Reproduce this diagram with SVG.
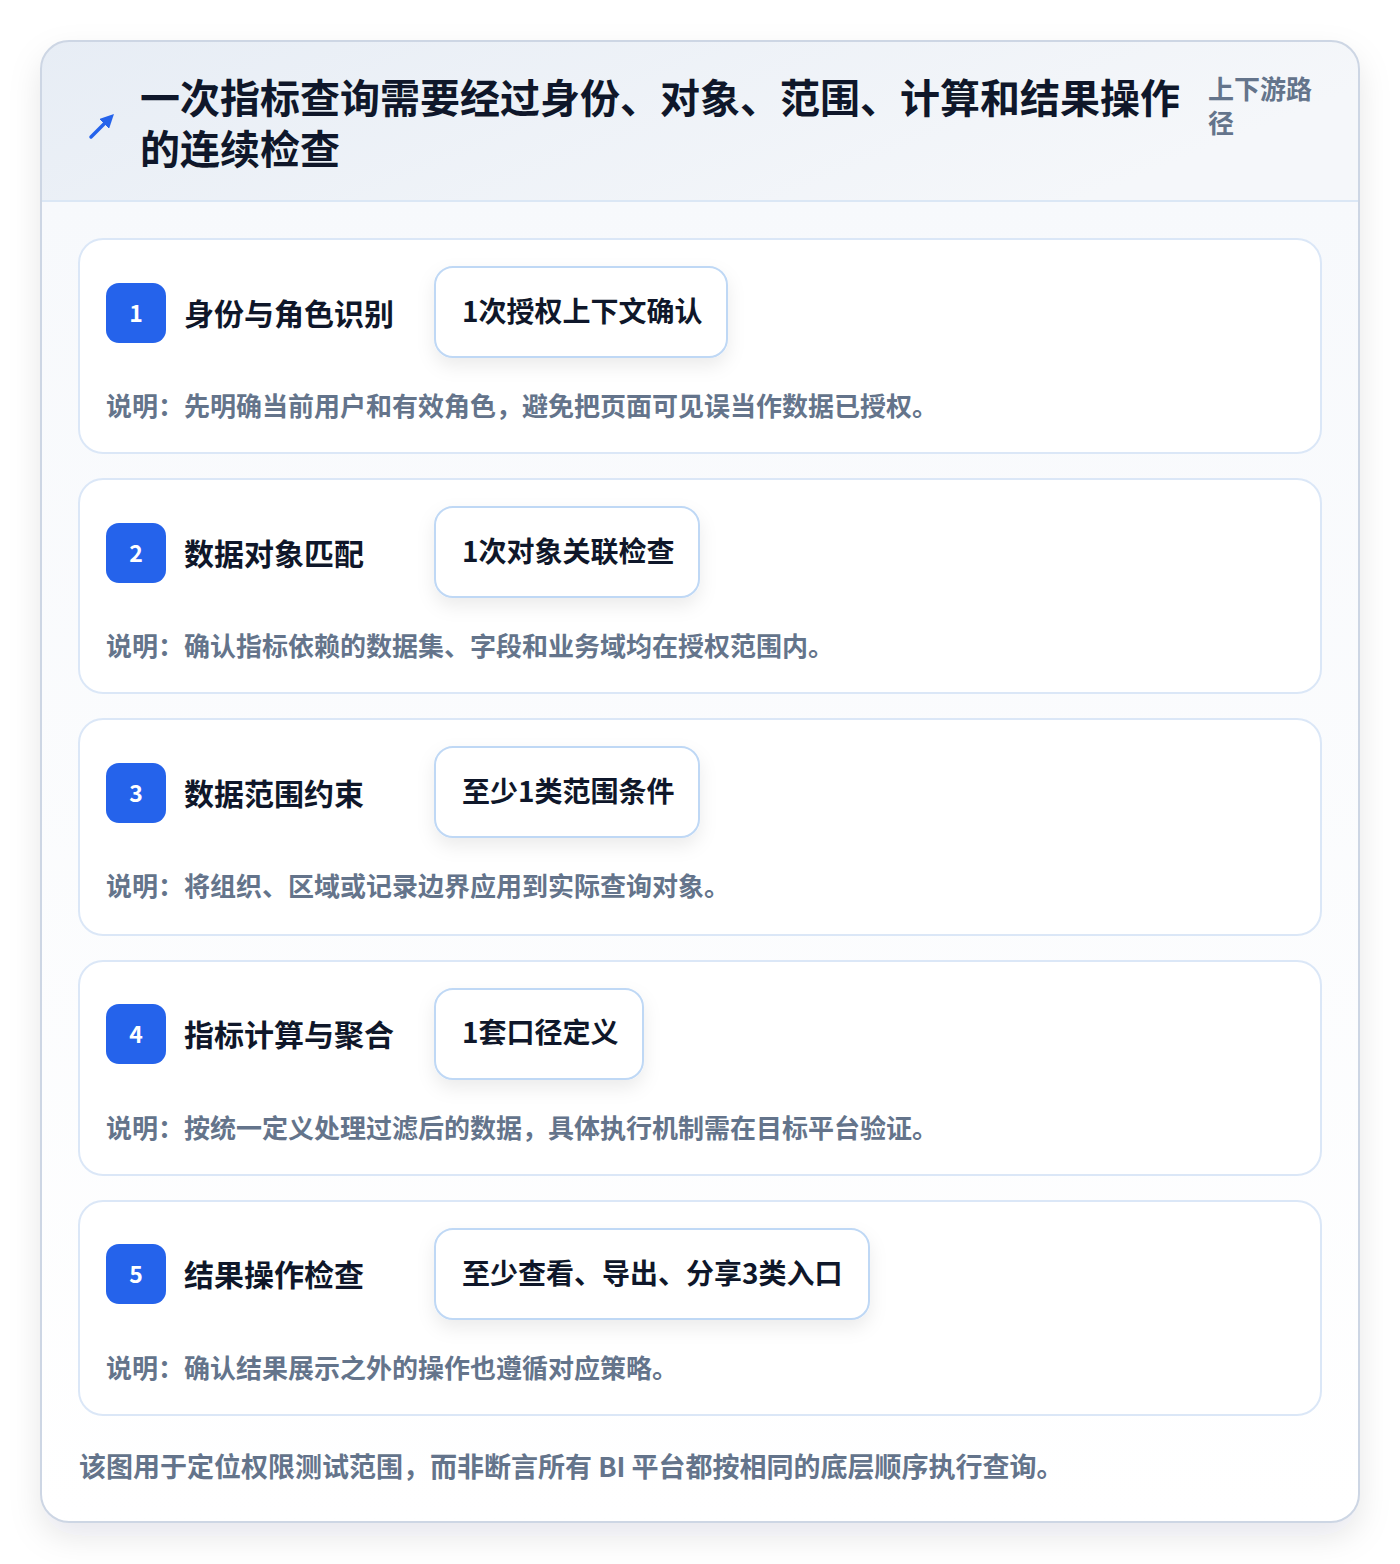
<svg xmlns="http://www.w3.org/2000/svg" width="1400" height="1564" viewBox="0 0 1400 1564">
<defs>
<linearGradient id="hdr" x1="0" y1="0" x2="1" y2="0.3">
<stop offset="0" stop-color="#e7edf5"/>
<stop offset="1" stop-color="#f5f7fa"/>
</linearGradient>
<linearGradient id="body" x1="0" y1="0" x2="0" y2="1">
<stop offset="0" stop-color="#f7f9fc"/>
<stop offset="1" stop-color="#ffffff"/>
</linearGradient>
<clipPath id="outerClip"><rect x="41" y="41" width="1318" height="1481" rx="28"/></clipPath>
<filter id="outerShadow" x="-10%" y="-10%" width="120%" height="120%">
<feDropShadow dx="0" dy="14" stdDeviation="16" flood-color="#0f172a" flood-opacity="0.10"/>
</filter>
<filter id="pillShadow" x="-20%" y="-40%" width="140%" height="180%">
<feDropShadow dx="0" dy="8" stdDeviation="9" flood-color="#0f172a" flood-opacity="0.08"/>
</filter>
<marker id="ah" viewBox="0 0 10 10" refX="6" refY="5" markerWidth="4" markerHeight="4" orient="auto">
<path d="M0,0 L10,5 L0,10 z" fill="#2563eb"/>
</marker>
<style>
.t{font-family:"Noto Sans CJK SC","Noto Sans",sans-serif;font-weight:700}
.card{fill:#ffffff;stroke:#dbe7f7;stroke-width:2}
.badge{fill:#2563eb}
.num{fill:#ffffff;font-size:23px}
.ttl{fill:#0f172a;font-size:30px}
.pill{fill:#ffffff;stroke:#bfd8f5;stroke-width:2}
.ptx{fill:#0f172a;font-size:28px}
.desc{fill:#64748b;font-size:26px}
</style>
</defs>
<rect x="0" y="0" width="1400" height="1564" fill="#ffffff"/>
<g id="frame">
<rect x="41" y="41" width="1318" height="1481" rx="28" fill="#ffffff" filter="url(#outerShadow)"/>
<g clip-path="url(#outerClip)">
<rect x="41" y="201" width="1318" height="1321" fill="url(#body)"/>
<rect x="41" y="41" width="1318" height="160" fill="url(#hdr)"/>
<line x1="41" y1="201" x2="1359" y2="201" stroke="#dbe7f5" stroke-width="2"/>
</g>
<rect x="41" y="41" width="1318" height="1481" rx="28" fill="none" stroke="#cdd6e4" stroke-width="2"/>
</g>
<g id="header">
<line x1="91" y1="137" x2="110" y2="118" stroke="#2563eb" stroke-width="3.5" stroke-linecap="round" marker-end="url(#ah)"/>
<text class="t" x="140" y="113" font-size="40" fill="#0f172a"><tspan x="140" y="113">一次指标查询需要经过身份、对象、范围、计算和结果操作</tspan><tspan x="140" y="164">的连续检查</tspan></text>
<text class="t" x="1208" y="99" font-size="26" fill="#64748b"><tspan x="1208" y="99">上下游路</tspan><tspan x="1208" y="133">径</tspan></text>
</g>
<g id="connectors"></g>
<g id="step1">
<rect class="card" x="79" y="239" width="1242" height="214" rx="24"/>
<rect class="badge" x="106" y="283" width="60" height="60" rx="13"/>
<text class="t num" x="136" y="322" text-anchor="middle">1</text>
<text class="t ttl" x="184" y="325">身份与角色识别</text>
<rect class="pill" x="435" y="267" width="292" height="90" rx="18" filter="url(#pillShadow)"/>
<text class="t ptx" x="462" y="322">1次授权上下文确认</text>
<text class="t desc" x="106" y="416">说明：先明确当前用户和有效角色，避免把页面可见误当作数据已授权。</text>
</g>
<g id="step2">
<rect class="card" x="79" y="479" width="1242" height="214" rx="24"/>
<rect class="badge" x="106" y="523" width="60" height="60" rx="13"/>
<text class="t num" x="136" y="562" text-anchor="middle">2</text>
<text class="t ttl" x="184" y="565">数据对象匹配</text>
<rect class="pill" x="435" y="507" width="264" height="90" rx="18" filter="url(#pillShadow)"/>
<text class="t ptx" x="462" y="562">1次对象关联检查</text>
<text class="t desc" x="106" y="656">说明：确认指标依赖的数据集、字段和业务域均在授权范围内。</text>
</g>
<g id="step3">
<rect class="card" x="79" y="719" width="1242" height="216" rx="24"/>
<rect class="badge" x="106" y="763" width="60" height="60" rx="13"/>
<text class="t num" x="136" y="802" text-anchor="middle">3</text>
<text class="t ttl" x="184" y="805">数据范围约束</text>
<rect class="pill" x="435" y="747" width="264" height="90" rx="18" filter="url(#pillShadow)"/>
<text class="t ptx" x="462" y="802">至少1类范围条件</text>
<text class="t desc" x="106" y="896">说明：将组织、区域或记录边界应用到实际查询对象。</text>
</g>
<g id="step4">
<rect class="card" x="79" y="961" width="1242" height="214" rx="24"/>
<rect class="badge" x="106" y="1004" width="60" height="60" rx="13"/>
<text class="t num" x="136" y="1043" text-anchor="middle">4</text>
<text class="t ttl" x="184" y="1046">指标计算与聚合</text>
<rect class="pill" x="435" y="989" width="208" height="90" rx="18" filter="url(#pillShadow)"/>
<text class="t ptx" x="462" y="1043">1套口径定义</text>
<text class="t desc" x="106" y="1138">说明：按统一定义处理过滤后的数据，具体执行机制需在目标平台验证。</text>
</g>
<g id="step5">
<rect class="card" x="79" y="1201" width="1242" height="214" rx="24"/>
<rect class="badge" x="106" y="1244" width="60" height="60" rx="13"/>
<text class="t num" x="136" y="1283" text-anchor="middle">5</text>
<text class="t ttl" x="184" y="1286">结果操作检查</text>
<rect class="pill" x="435" y="1229" width="434" height="90" rx="18" filter="url(#pillShadow)"/>
<text class="t ptx" x="462" y="1284">至少查看、导出、分享3类入口</text>
<text class="t desc" x="106" y="1378">说明：确认结果展示之外的操作也遵循对应策略。</text>
</g>
<g id="footer">
<text class="t" x="79" y="1477" font-size="27" fill="#64748b">该图用于定位权限测试范围，而非断言所有 BI 平台都按相同的底层顺序执行查询。</text>
</g>
</svg>
